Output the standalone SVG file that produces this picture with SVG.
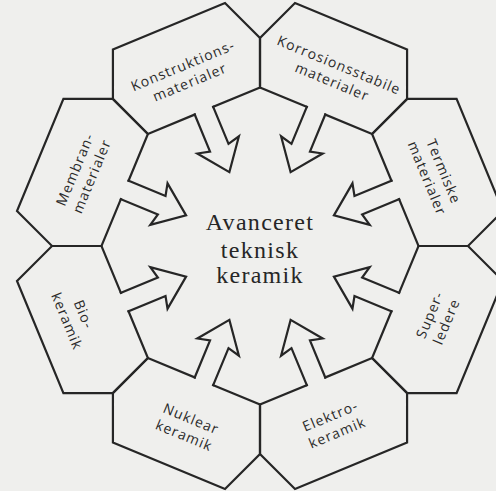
<svg xmlns="http://www.w3.org/2000/svg" xmlns:xlink="http://www.w3.org/1999/xlink" width="496" height="491" viewBox="0 0 496 491">
<style>
.bg{fill:#efefed}
.ol{fill:none;stroke:#262626;stroke-width:2.2;stroke-linejoin:miter;stroke-linecap:square}
.lbl{font-family:"Open Sans","DejaVu Sans",sans-serif;font-size:14px;letter-spacing:1.1px;fill:#2a2a2a;text-anchor:middle}
.ctr{font-family:"Liberation Serif","Times New Roman",serif;font-size:24px;letter-spacing:1.3px;fill:#262626;text-anchor:middle}
</style>
<defs>
<path id="hex" d="M270,99.565 L320.655,99.565 L339.598,53.833 L320.655,8.101 L199.345,8.101 L180.402,53.833 L199.345,99.565 L250,99.565"/>
<path id="arr" d="M250,99.565 L250,139.6 L237.5,136.6 L260,166 L282.5,136.6 L270,139.6 L270,99.565"/>
</defs>
<rect class="bg" x="0" y="0" width="496" height="491"/>
<g id="konstruktions">
<use href="#hex" xlink:href="#hex" class="ol" transform="rotate(-22.5 260 246)"/>
<text class="lbl" transform="translate(186.5 74.3) rotate(-22.5)"><tspan x="0" y="-4.5">Konstruktions-</tspan><tspan x="0" y="13.5">materialer</tspan></text>
</g>
<g id="korrosion">
<use href="#hex" xlink:href="#hex" class="ol" transform="rotate(22.5 260 246)"/>
<text class="lbl" transform="translate(335.5 73.8) rotate(22.5)"><tspan x="0" y="-4.5">Korrosionsstabile</tspan><tspan x="0" y="13.5">materialer</tspan></text>
</g>
<g id="termiske">
<use href="#hex" xlink:href="#hex" class="ol" transform="rotate(67.5 260 246)"/>
<text class="lbl" transform="translate(435 175) rotate(67.5)"><tspan x="0" y="-4.5">Termiske</tspan><tspan x="0" y="13.5">materialer</tspan></text>
</g>
<g id="superledere">
<use href="#hex" xlink:href="#hex" class="ol" transform="rotate(112.5 260 246)"/>
<text class="lbl" transform="translate(438.5 318.3) rotate(-67.5)"><tspan x="0" y="-4.5">Super-</tspan><tspan x="0" y="13.5">ledere</tspan></text>
</g>
<g id="elektro">
<use href="#hex" xlink:href="#hex" class="ol" transform="rotate(157.5 260 246)"/>
<text class="lbl" transform="translate(334 424.7) rotate(-22.5)"><tspan x="0" y="-4.5">Elektro-</tspan><tspan x="0" y="13.5">keramik</tspan></text>
</g>
<g id="nuklear">
<use href="#hex" xlink:href="#hex" class="ol" transform="rotate(202.5 260 246)"/>
<text class="lbl" transform="translate(187.5 427.5) rotate(22.5)"><tspan x="0" y="-4.5">Nuklear</tspan><tspan x="0" y="13.5">keramik</tspan></text>
</g>
<g id="bio">
<use href="#hex" xlink:href="#hex" class="ol" transform="rotate(247.5 260 246)"/>
<text class="lbl" transform="translate(75 318) rotate(67.5)"><tspan x="0" y="-4.5">Bio-</tspan><tspan x="0" y="13.5">keramik</tspan></text>
</g>
<g id="membran">
<use href="#hex" xlink:href="#hex" class="ol" transform="rotate(292.5 260 246)"/>
<text class="lbl" transform="translate(83.8 173) rotate(-67.5)"><tspan x="0" y="-4.5">Membran-</tspan><tspan x="0" y="13.5">materialer</tspan></text>
</g>
<g id="center">
<text class="ctr"><tspan x="260" y="230">Avanceret</tspan><tspan x="260" y="258">teknisk</tspan><tspan x="260" y="283">keramik</tspan></text>
</g>
<g id="connectors">
<use href="#arr" xlink:href="#arr" class="ol" transform="rotate(-22.5 260 246)"/>
<use href="#arr" xlink:href="#arr" class="ol" transform="rotate(22.5 260 246)"/>
<use href="#arr" xlink:href="#arr" class="ol" transform="rotate(67.5 260 246)"/>
<use href="#arr" xlink:href="#arr" class="ol" transform="rotate(112.5 260 246)"/>
<use href="#arr" xlink:href="#arr" class="ol" transform="rotate(157.5 260 246)"/>
<use href="#arr" xlink:href="#arr" class="ol" transform="rotate(202.5 260 246)"/>
<use href="#arr" xlink:href="#arr" class="ol" transform="rotate(247.5 260 246)"/>
<use href="#arr" xlink:href="#arr" class="ol" transform="rotate(292.5 260 246)"/>
</g>
</svg>
